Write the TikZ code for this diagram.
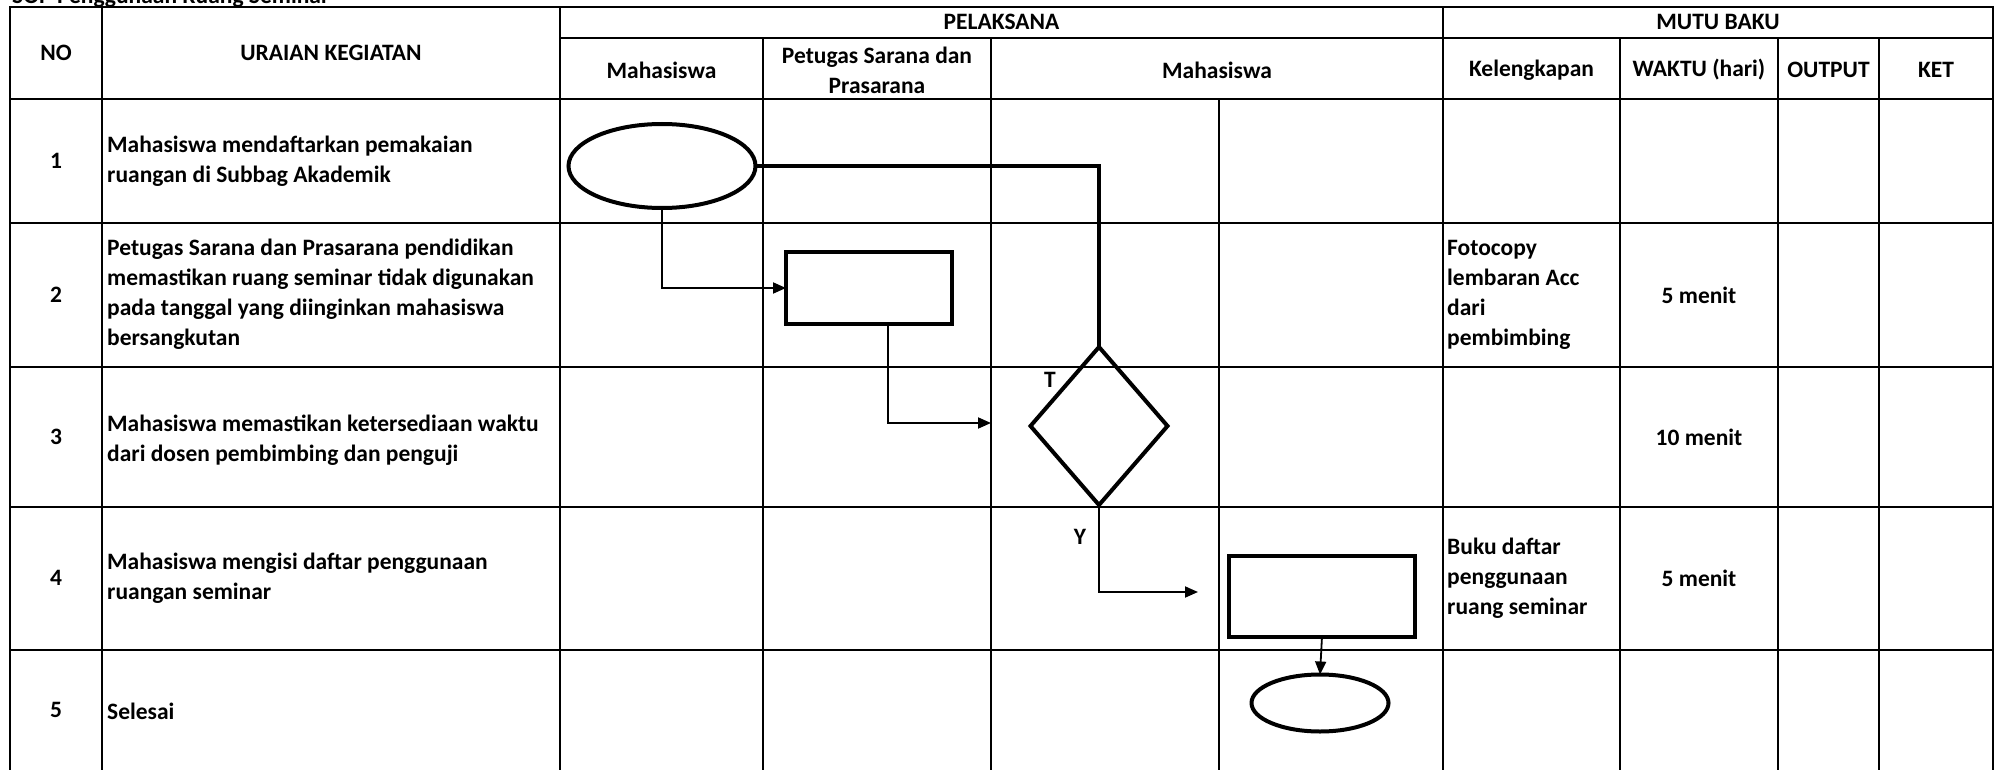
\documentclass[tikz,border=0pt]{standalone}
\usepackage{fontspec}
\setmainfont{Carlito}
\usetikzlibrary{shapes.geometric,arrows.meta,calc}
\begin{document}
\begin{tikzpicture}[x=1pt,y=-1pt,
  tl/.style={line width=2.6pt, line cap=rect},
  shp/.style={draw, line width=4pt, inner sep=0pt, outer sep=0pt},
  conthin/.style={line width=1.8pt},
  conthick/.style={line width=4pt},
  arr/.style={-{Triangle[length=13pt,width=11pt]}},
  t/.style={font=\fontsize{23.5}{30}\selectfont\bfseries, inner sep=0pt, align=left},
  tc/.style={font=\fontsize{23.5}{30}\selectfont\bfseries, inner sep=0pt, align=center},
]
\useasboundingbox (0,0) rectangle (1997,770);
\fill[white] (0,0) rectangle (1997,770);
\clip (0,0) rectangle (1997,770);

% grid
\foreach \x in {10,102,560,1443,1993} \draw[tl] (\x,7) -- (\x,775);
\foreach \x in {763,991,1620,1778,1879} \draw[tl] (\x,38) -- (\x,775);
\draw[tl] (1219,99) -- (1219,775);
\draw[tl] (10,7) -- (1993,7);
\draw[tl] (560,38) -- (1993,38);
\foreach \y in {99,223,367,507,650} \draw[tl] (10,\y) -- (1993,\y);

% title (cut off at top, as in the reference)
\node[t, anchor=base west] (title) at (12,4) {SOP Penggunaan Ruang Seminar};

% header
\node[tc] (hno) at (56,53) {NO};
\node[tc] (hur) at (331,53) {URAIAN KEGIATAN};
\node[tc] (hpel) at (1001.5,22) {PELAKSANA};
\node[tc] (hmutu) at (1718,22) {MUTU BAKU};
\node[tc] (hm1) at (661.5,70) {Mahasiswa};
\node[tc] (hps) at (877,70) {Petugas Sarana dan\\Prasarana};
\node[tc] (hm2) at (1217,70) {Mahasiswa};
\node[tc] (hkel) at (1531.5,70) {Kelengkapan};
\node[tc] (hwak) at (1699,70) {WAKTU (hari)};
\node[tc] (hout) at (1828.5,70) {OUTPUT};
\node[tc] (hket) at (1936,70) {KET};

% row numbers
\node[tc] (n1) at (56,161) {1};
\node[tc] (n2) at (56,295) {2};
\node[tc] (n3) at (56,437) {3};
\node[tc] (n4) at (56,578) {4};
\node[tc] (n5) at (56,710) {5};

% activities
\node[t, anchor=west] (k1) at (107,161) {Mahasiswa mendaftarkan pemakaian\\ruangan di Subbag Akademik};
\node[t, anchor=west] (k2) at (107,294) {Petugas Sarana dan Prasarana pendidikan\\memastikan ruang seminar tidak digunakan\\pada tanggal yang diinginkan mahasiswa\\bersangkutan};
\node[t, anchor=west] (k3) at (107,440) {Mahasiswa memastikan ketersediaan waktu\\dari dosen pembimbing dan penguji};
\node[t, anchor=west] (k4) at (107,578) {Mahasiswa mengisi daftar penggunaan\\ruangan seminar};
\node[t, anchor=west] (k5) at (107,711) {Selesai};

% kelengkapan
\node[t, anchor=west] (kl2) at (1447,295) {Fotocopy\\lembaran Acc\\dari\\pembimbing};
\node[t, anchor=west] (kl4) at (1447,578) {Buku daftar\\penggunaan\\ruang seminar};

% waktu
\node[tc] (w2) at (1699,295) {5 menit};
\node[tc] (w3) at (1699,437) {10 menit};
\node[tc] (w4) at (1699,578) {5 menit};

% flow shapes
\node[shp, ellipse, minimum width=187pt, minimum height=84pt] (e1) at (662,166) {};
\node[shp, rectangle, minimum width=166pt, minimum height=72pt] (r1) at (869,288) {};
\node[shp, diamond, minimum width=137pt, minimum height=158pt] (d1) at (1099,426) {};
\node[shp, rectangle, minimum width=186pt, minimum height=81pt] (r2) at (1322,596) {};
\node[shp, ellipse, minimum width=137pt, minimum height=57pt] (e2) at (1320,703) {};

% labels
\node[tc] (lt) at (1050,380) {T};
\node[tc] (ly) at (1080,537) {Y};

% connectors
\coordinate (a3) at (991,423);
\coordinate (a4) at (1198,592);
\draw[conthick] (e1.east) -- (e1.east -| d1.north) -- (d1.north);
\draw[conthin, arr] (e1.south) |- (r1.west);
\draw[conthin, arr] ($(r1.south)+(19,0)$) |- (a3);
\draw[conthin, arr] (d1.south) |- (a4);
\draw[conthin, arr] (r2.south) -- (e2.north);
\end{tikzpicture}
\end{document}
